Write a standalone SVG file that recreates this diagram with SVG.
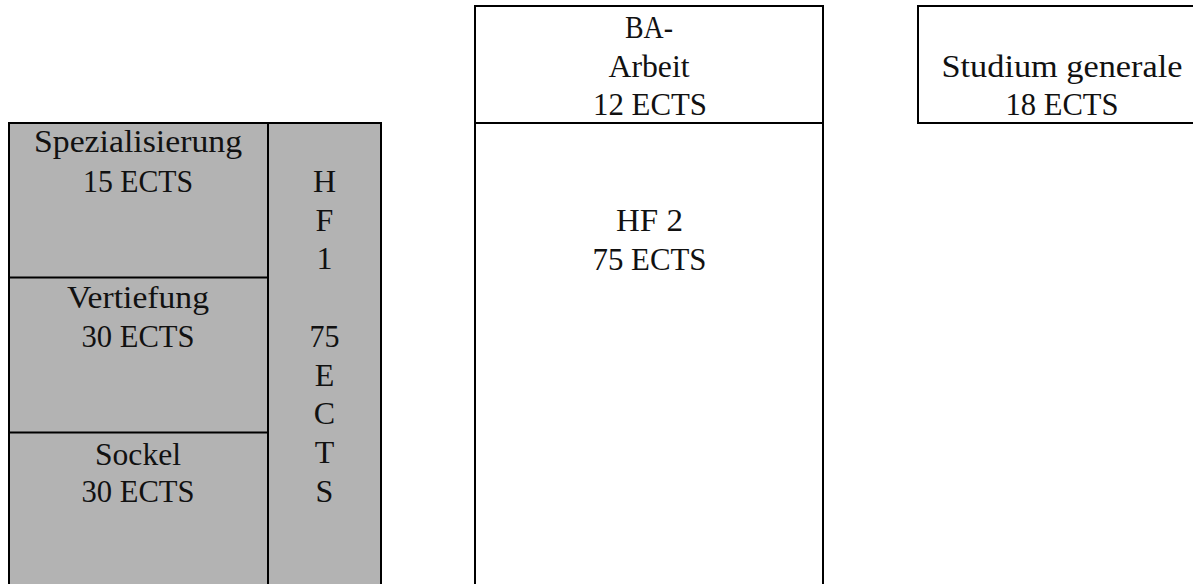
<svg xmlns="http://www.w3.org/2000/svg" width="1193" height="584" viewBox="0 0 1193 584">
<style>
  .box { stroke: #000; stroke-width: 2; }
  .grey { fill: #b3b3b3; }
  .white { fill: #fff; }
  .line { stroke: #000; stroke-width: 2; fill: none; }
  text { font-family: "Liberation Serif", "Times New Roman", serif; font-size: 32px; fill: #111; text-anchor: middle; }
</style>
<rect x="0" y="0" width="1193" height="584" fill="#fff"/>
<g id="hf1">
  <rect class="box grey" x="9" y="123" width="372" height="480"/>
  <line class="line" x1="268" y1="123" x2="268" y2="600"/>
  <text x="324.5" y="192">H</text>
  <text x="324.5" y="230.7">F</text>
  <text x="324.5" y="269.4">1</text>
  <text x="324.5" y="346.8" textLength="30" lengthAdjust="spacingAndGlyphs">75</text>
  <text x="324.5" y="385.5">E</text>
  <text x="324.5" y="424.2">C</text>
  <text x="324.5" y="463">T</text>
  <text x="324.5" y="501.6">S</text>
</g>
<g id="spezialisierung">
  <text x="138" y="151.5" textLength="208" lengthAdjust="spacingAndGlyphs">Spezialisierung</text>
  <text x="138" y="192" textLength="110" lengthAdjust="spacingAndGlyphs">15 ECTS</text>
</g>
<g id="vertiefung">
  <line class="line" x1="9" y1="277.5" x2="268" y2="277.5"/>
  <text x="138" y="307.5" textLength="142" lengthAdjust="spacingAndGlyphs">Vertiefung</text>
  <text x="138" y="346.8" textLength="113" lengthAdjust="spacingAndGlyphs">30 ECTS</text>
</g>
<g id="sockel">
  <line class="line" x1="9" y1="432.5" x2="268" y2="432.5"/>
  <text x="138" y="464.5" textLength="86" lengthAdjust="spacingAndGlyphs">Sockel</text>
  <text x="138" y="502" textLength="113" lengthAdjust="spacingAndGlyphs">30 ECTS</text>
</g>
<g id="ba-arbeit">
  <rect class="box white" x="475" y="6" width="348" height="117"/>
  <text x="649" y="38" textLength="48" lengthAdjust="spacingAndGlyphs">BA-</text>
  <text x="649" y="76.5" textLength="81" lengthAdjust="spacingAndGlyphs">Arbeit</text>
  <text x="650" y="114.5" textLength="114" lengthAdjust="spacingAndGlyphs">12 ECTS</text>
</g>
<g id="hf2">
  <rect class="box white" x="475" y="123" width="348" height="480"/>
  <text x="649.5" y="230.5" textLength="67" lengthAdjust="spacingAndGlyphs">HF 2</text>
  <text x="649.5" y="270" textLength="114" lengthAdjust="spacingAndGlyphs">75 ECTS</text>
</g>
<g id="studium-generale">
  <rect class="box white" x="918" y="6" width="292" height="117"/>
  <text x="1062" y="77" textLength="241" lengthAdjust="spacingAndGlyphs">Studium generale</text>
  <text x="1062" y="115" textLength="113" lengthAdjust="spacingAndGlyphs">18 ECTS</text>
</g>
<g id="connectors"></g>
</svg>
